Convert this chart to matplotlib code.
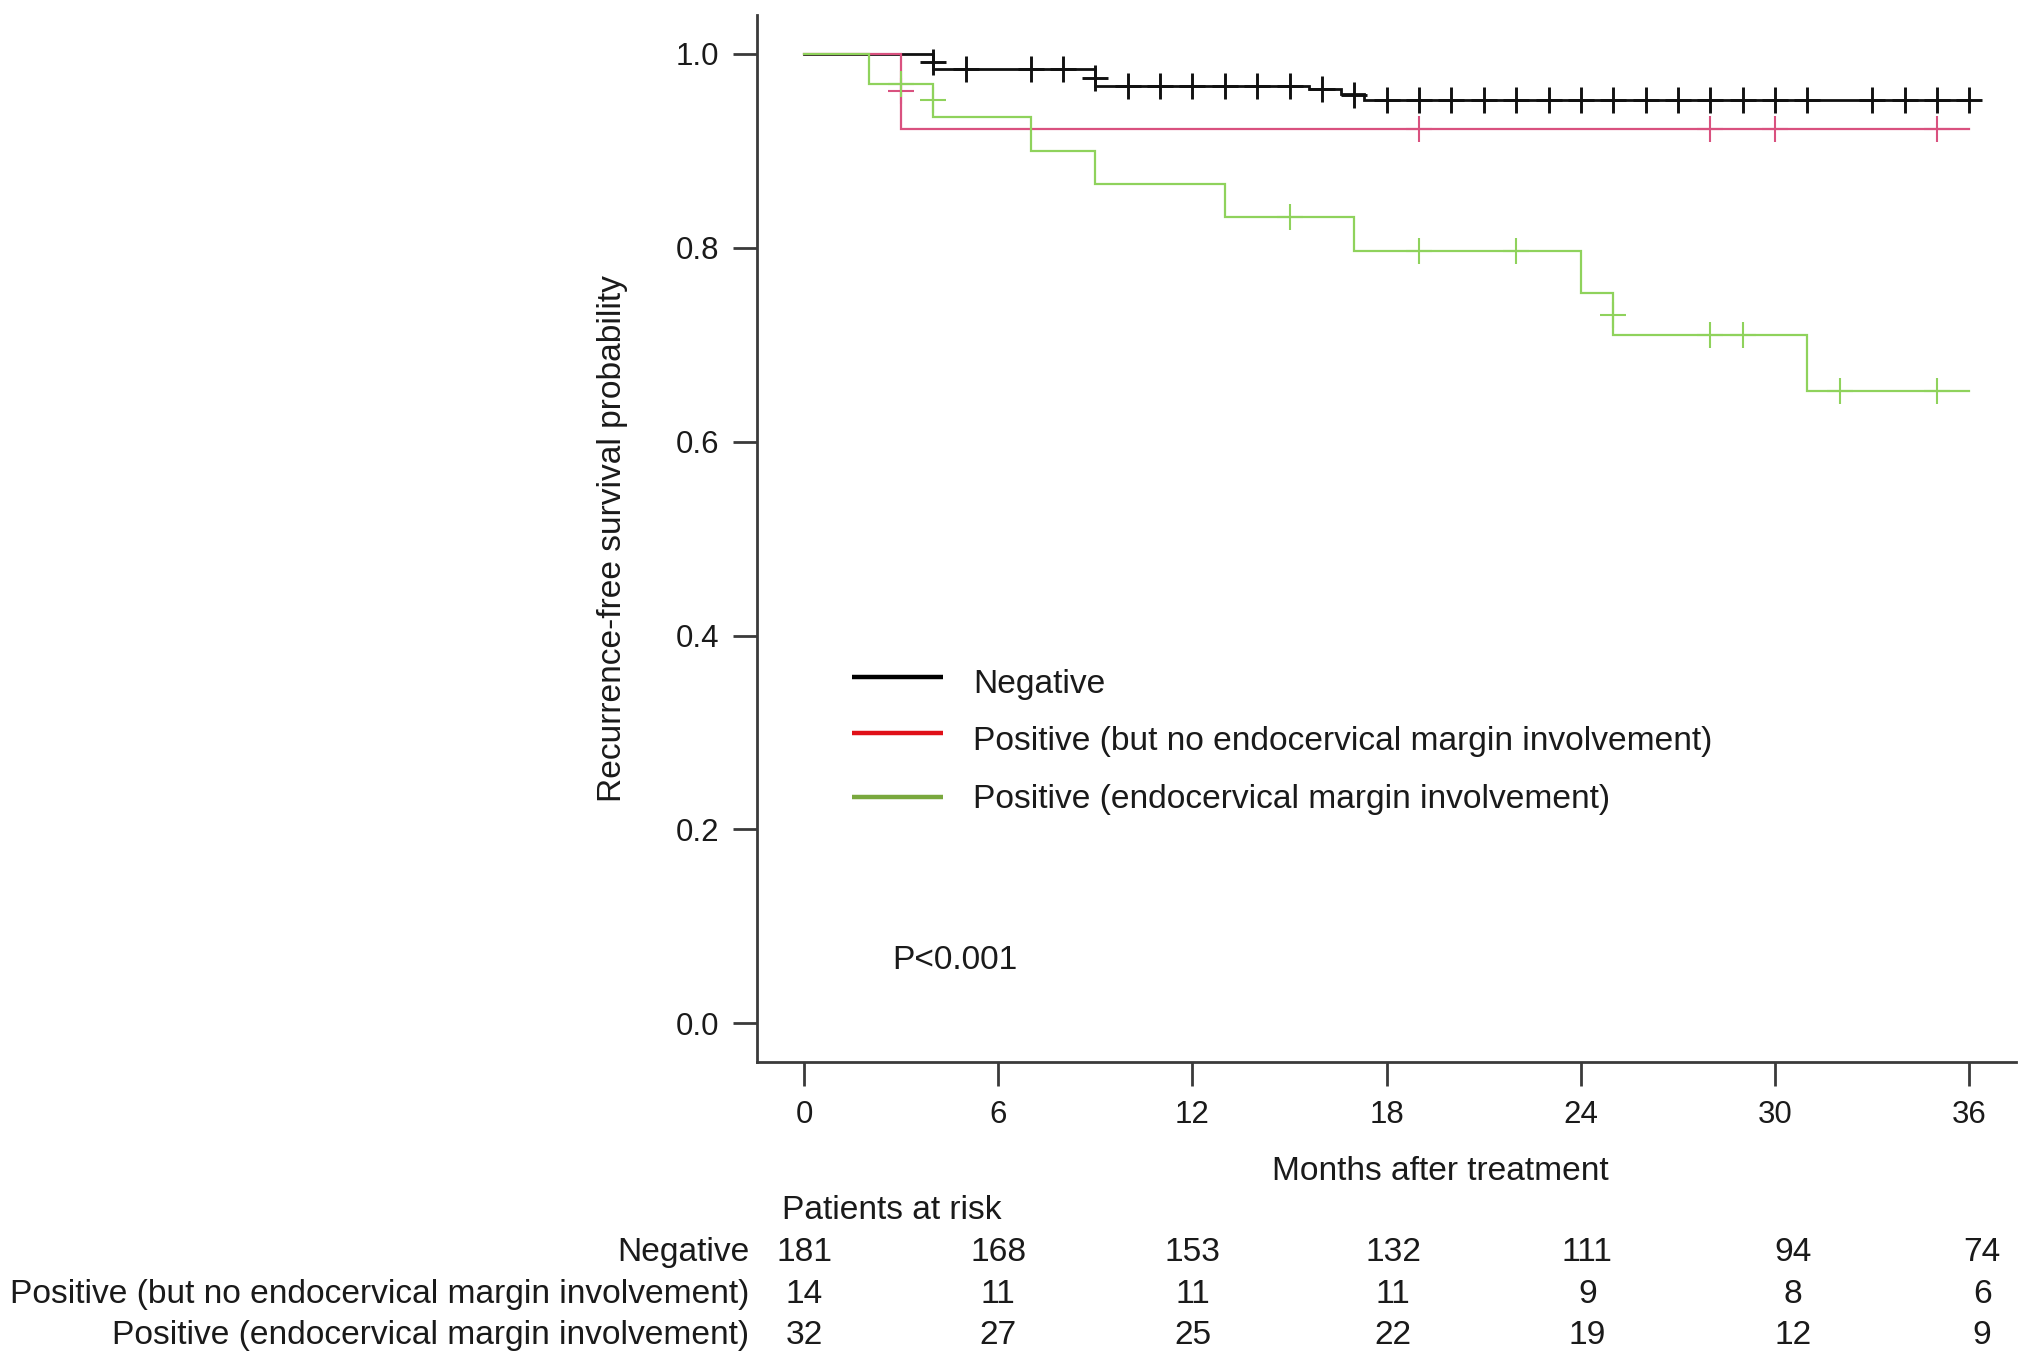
import matplotlib
matplotlib.use("Agg")
import matplotlib.pyplot as plt
from matplotlib.lines import Line2D
import matplotlib.transforms as mtransforms

plt.rcParams['font.family'] = ['Liberation Sans', 'DejaVu Sans']

# ---------------- data ----------------
group_labels = ["Negative",
                "Positive (but no endocervical margin involvement)",
                "Positive (endocervical margin involvement)"]

neg_times = [0, 4, 9, 15.6, 16.6, 17.3, 36]
neg_surv = [1.0, 0.984, 0.967, 0.9635, 0.959, 0.9526, 0.9526]
neg_cens_t = [4, 5, 7, 8, 9, 10, 11, 12, 13, 14, 15, 16, 17, 18, 19, 20, 21, 22,
              23, 24, 25, 26, 27, 28, 29, 30, 31, 33, 34, 35, 36]
neg_cens_s = [0.9915, 0.984, 0.984, 0.984, 0.975, 0.967, 0.967, 0.967, 0.967,
              0.967, 0.967, 0.9635, 0.958, 0.9526, 0.9526, 0.9526, 0.9526,
              0.9526, 0.9526, 0.9526, 0.9526, 0.9526, 0.9526, 0.9526, 0.9526,
              0.9526, 0.9526, 0.9526, 0.9526, 0.9526, 0.9526]

pos_times = [0, 3, 36]
pos_surv = [1.0, 0.923, 0.923]
pos_cens_t = [3, 19, 28, 30, 35]
pos_cens_s = [0.962, 0.923, 0.923, 0.923, 0.923]

endo_times = [0, 2, 4, 7, 9, 13, 17, 24, 25, 31, 36]
endo_surv = [1.0, 0.969, 0.935, 0.900, 0.866, 0.832, 0.797, 0.753, 0.710, 0.652, 0.652]
endo_cens_t = [3, 4, 15, 19, 22, 25, 28, 29, 32, 35]
endo_cens_s = [0.969, 0.952, 0.832, 0.797, 0.797, 0.731, 0.710, 0.710, 0.652, 0.652]

x_ticks = [0, 6, 12, 18, 24, 30, 36]
y_ticks = [0.0, 0.2, 0.4, 0.6, 0.8, 1.0]
risk_x = [0, 6, 12, 18.2, 24.2, 30.55, 36.4]
risk_neg = [181, 168, 153, 132, 111, 94, 74]
risk_pos = [14, 11, 11, 11, 9, 8, 6]
risk_endo = [32, 27, 25, 22, 19, 12, 9]
p_text = "P<0.001"

# ---------------- styles ----------------
line_colors = ["#111111", "#d9517f", "#8fd25c"]
legend_colors = ["#000000", "#e01018", "#79a83e"]
FS_TICK = 22.5
FS = 24.1

fig = plt.figure(figsize=(20.32, 13.65), dpi=100)
ax = fig.add_axes([0.37274, 0.2219, 0.61934, 0.76697])

curves = [(neg_times, neg_surv, neg_cens_t, neg_cens_s, 2.0, 2.1),
          (pos_times, pos_surv, pos_cens_t, pos_cens_s, 1.6, 1.5),
          (endo_times, endo_surv, endo_cens_t, endo_cens_s, 1.6, 1.5)]
for (t, s, ct, cs, lw, mew), col in zip(curves, line_colors):
    ax.step(t, s, where='post', color=col, lw=lw, solid_joinstyle='miter')
    ax.plot(ct, cs, linestyle='none', marker='+', markersize=19,
            markeredgewidth=mew, color=col)

ax.set_xlim(-1.44, 37.44)
ax.set_ylim(-0.04, 1.04)
ax.set_xticks(x_ticks)
ax.set_xticklabels([str(v) for v in x_ticks])
ax.set_yticks(y_ticks)
ax.set_yticklabels([f"{v:.1f}" for v in y_ticks])
for side in ['top', 'right']:
    ax.spines[side].set_visible(False)
for side in ['left', 'bottom']:
    ax.spines[side].set_color('#3a3a3a')
    ax.spines[side].set_linewidth(2.0)
ax.tick_params(axis='both', direction='out', length=17.5, width=2.0,
               color='#3a3a3a', labelsize=FS_TICK, labelcolor='#1a1a1a')
ax.tick_params(axis='x', pad=9.5)
ax.tick_params(axis='y', pad=10)

# legend drawn manually in axes fraction
leg_line_y = [0.3681, 0.3141, 0.2535]
leg_text_y = [0.3522, 0.2981, 0.2424]
for lab, col, ly, ty in zip(group_labels, legend_colors, leg_line_y, leg_text_y):
    ax.add_line(Line2D([0.0749, 0.1477], [ly, ly], transform=ax.transAxes,
                       color=col, lw=3.2, solid_capstyle='butt'))
    ax.text(0.1716, ty, lab, transform=ax.transAxes, fontsize=FS,
            ha='left', va='baseline', color='#1a1a1a')

ax.text(2.72, 0.0556, p_text, fontsize=FS, ha='left', va='baseline', color='#1a1a1a')

# axis labels
fig.text(0.3013, 0.6054, "Recurrence-free survival probability", rotation=90,
         ha='center', va='center', fontsize=FS, color='#1a1a1a')
fig.text(0.7089, 0.1420, "Months after treatment", ha='center', va='center',
         fontsize=FS, color='#1a1a1a')

# risk table
fig.text(0.3848, 0.1134, "Patients at risk", ha='left', va='center',
         fontsize=FS, color='#1a1a1a')
row_y = [0.0849, 0.0544, 0.0240]
blend = mtransforms.blended_transform_factory(ax.transData, fig.transFigure)
for lab, vals, ry in zip(group_labels, [risk_neg, risk_pos, risk_endo], row_y):
    fig.text(0.3689, ry, lab, ha='right', va='center_baseline', fontsize=FS,
             color='#1a1a1a')
    for xv, n in zip(risk_x, vals):
        ax.text(xv, ry, str(n), transform=blend, ha='center',
                va='center_baseline', fontsize=FS, color='#1a1a1a', clip_on=False)

fig.savefig("out.png", dpi=100, facecolor='white')
